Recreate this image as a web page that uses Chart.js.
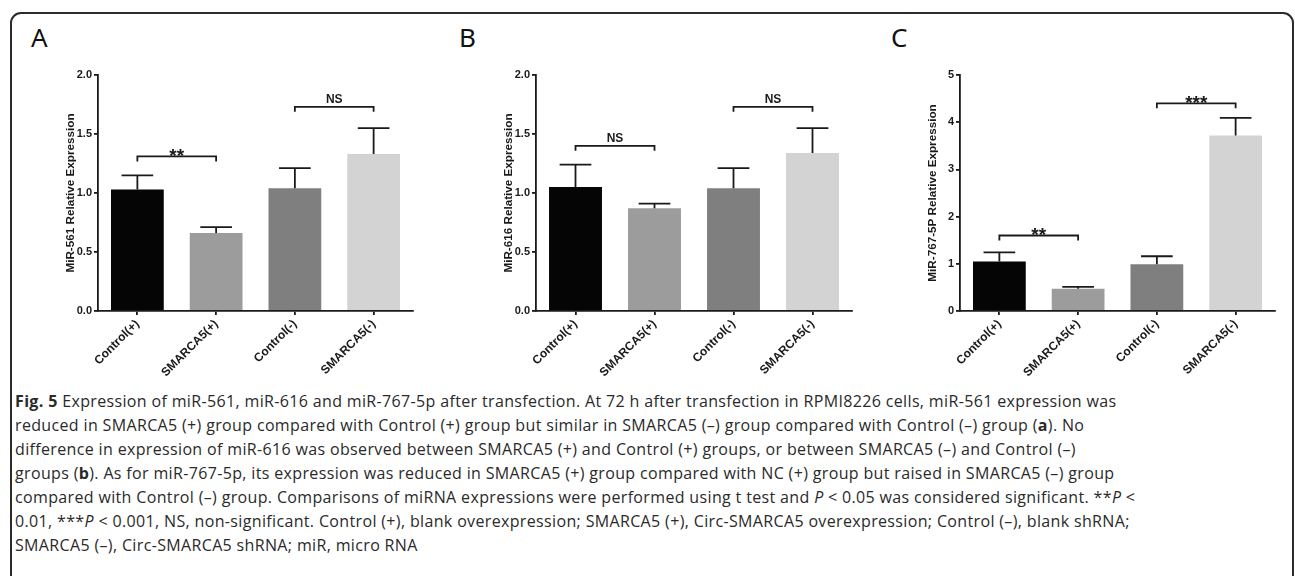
<!DOCTYPE html>
<html>
<head>
<meta charset="utf-8">
<script src="https://cdn.jsdelivr.net/npm/chart.js@4.4.1/dist/chart.umd.min.js"></script>
<style>
  html, body { margin: 0; padding: 0; background: #fff; }
  body { width: 1295px; height: 576px; position: relative; overflow: hidden; }
  .frame {
    position: absolute; left: 10px; top: 12px; width: 1280px; height: 640px;
    border: 2px solid #2b2b2b; border-radius: 11px;
  }
  .letter {
    position: absolute; top: 24px; font-family: "Noto Sans", sans-serif;
    font-size: 26px; line-height: 1; color: #111;
  }
  .panel { position: absolute; top: 60px; height: 320px; }
  .caption {
    position: absolute; left: 15px; top: 389px;
    font-family: "Open Sans", "Noto Sans", sans-serif; font-size: 16px; line-height: 24px;
    letter-spacing: 0.35px; color: #2a2a2a; white-space: pre;
  }
</style>
</head>
<body>
<div class="frame"></div>

<div class="letter" style="left:31px">A</div>
<div class="letter" style="left:459px">B</div>
<div class="letter" style="left:891px">C</div>

<div class="panel" style="left:40px;width:385px"><canvas id="chartA"></canvas></div>
<div class="panel" style="left:478px;width:386px"><canvas id="chartB"></canvas></div>
<div class="panel" style="left:902px;width:385px"><canvas id="chartC"></canvas></div>

<div class="caption"><b>Fig. 5</b> Expression of miR-561, miR-616 and miR-767-5p after transfection. At 72 h after transfection in RPMI8226 cells, miR-561 expression was
reduced in SMARCA5 (+) group compared with Control (+) group but similar in SMARCA5 (–) group compared with Control (–) group (<b>a</b>). No
difference in expression of miR-616 was observed between SMARCA5 (+) and Control (+) groups, or between SMARCA5 (–) and Control (–)
groups (<b>b</b>). As for miR-767-5p, its expression was reduced in SMARCA5 (+) group compared with NC (+) group but raised in SMARCA5 (–) group
compared with Control (–) group. Comparisons of miRNA expressions were performed using t test and <i>P</i> &lt; 0.05 was considered significant. **<i>P</i> &lt;
0.01, ***<i>P</i> &lt; 0.001, NS, non-significant. Control (+), blank overexpression; SMARCA5 (+), Circ-SMARCA5 overexpression; Control (–), blank shRNA;
SMARCA5 (–), Circ-SMARCA5 shRNA; miR, micro RNA</div>

<script>
// ============ DATA ============

const groups = ["Control(+)", "SMARCA5(+)", "Control(-)", "SMARCA5(-)"];
const barColors = ["#050505", "#9c9c9c", "#7f7f7f", "#d3d3d3"];

// panel A: miR-561
const mir561 = [1.03, 0.66, 1.04, 1.33];
const mir561Err = [1.15, 0.71, 1.21, 1.55];
const mir561Marks = [
    { from: 0, to: 1, y: 1.31, label: "**" },
    { from: 2, to: 3, y: 1.73, label: "NS" },
];

// panel B: miR-616
const mir616 = [1.05, 0.87, 1.04, 1.34];
const mir616Err = [1.24, 0.91, 1.21, 1.55];
const mir616Marks = [
    { from: 0, to: 1, y: 1.40, label: "NS" },
    { from: 2, to: 3, y: 1.73, label: "NS" },
];

// panel C: miR-767-5p
const mir767 = [1.05, 0.47, 0.99, 3.72];
const mir767Err = [1.24, 0.51, 1.16, 4.09];
const mir767Marks = [
    { from: 0, to: 1, y: 1.60, label: "**" },
    { from: 2, to: 3, y: 4.40, label: "***" },
];

const AXIS_FONT = "'Liberation Sans', Arial, sans-serif";
const INK = "#1a1a1a";

// ============ ERROR BARS + SIGNIFICANCE BRACKETS ============

const annotate = {
    id: "annotate",
    afterDatasetsDraw(chart, args, opts) {
        const ctx = chart.ctx;
        const xs = chart.scales.x;
        const ys = chart.scales.y;
        const meta = chart.getDatasetMeta(0);
        ctx.save();
        ctx.strokeStyle = INK;
        ctx.lineWidth = 1.8;
        ctx.lineCap = "butt";

        // upper whisker only
        opts.errors.forEach((e, i) => {
            const bar = meta.data[i];
            const top = ys.getPixelForValue(opts.values[i]);
            const end = ys.getPixelForValue(e);
            const half = bar.width * 0.3;
            ctx.beginPath();
            ctx.moveTo(bar.x, top);
            ctx.lineTo(bar.x, end);
            ctx.moveTo(bar.x - half, end);
            ctx.lineTo(bar.x + half, end);
            ctx.stroke();
        });

        // brackets
        opts.marks.forEach(m => {
            const x0 = xs.getPixelForValue(m.from);
            const x1 = xs.getPixelForValue(m.to);
            const y = ys.getPixelForValue(m.y);
            ctx.beginPath();
            ctx.moveTo(x0, y + 5);
            ctx.lineTo(x0, y);
            ctx.lineTo(x1, y);
            ctx.lineTo(x1, y + 5);
            ctx.stroke();

            const stars = m.label.startsWith("*");
            ctx.fillStyle = INK;
            ctx.textAlign = "center";
            ctx.textBaseline = "alphabetic";
            ctx.font = stars ? `bold 19px ${AXIS_FONT}` : `bold 12px ${AXIS_FONT}`;
            ctx.fillText(m.label, (x0 + x1) / 2, stars ? y + 6 : y - 4);
        });
        ctx.restore();
    }
};

// ============ PANEL BUILDER ============

function makePanel(id, values, errors, marks, yMax, yStep, decimals, title) {
    const ctx = document.getElementById(id).getContext("2d");
    return new Chart(ctx, {
        type: "bar",
        data: {
            labels: groups,
            datasets: [{
                data: values,
                backgroundColor: barColors,
                borderWidth: 0,
                barPercentage: 0.67,
                categoryPercentage: 1.0,
            }]
        },
        options: {
            responsive: true,
            maintainAspectRatio: false,
            animation: false,
            layout: { padding: { top: 15, right: 12, left: 0, bottom: 0 } },
            scales: {
                x: {
                    afterFit: s => { s.height = 69; },
                    border: { display: true, color: INK, width: 1.8 },
                    grid: { display: true, offset: false, drawOnChartArea: false, drawTicks: true,
                            tickLength: 4, color: INK, lineWidth: 1.8 },
                    ticks: {
                        color: INK, minRotation: 45, maxRotation: 45, padding: 2,
                        font: { family: AXIS_FONT, size: 12, weight: "bold" }
                    }
                },
                y: {
                    min: 0, max: yMax,
                    afterFit: s => { s.width = 58; },
                    border: { display: true, color: INK, width: 1.8 },
                    grid: { display: true, drawOnChartArea: false, drawTicks: true,
                            tickLength: 4, color: INK, lineWidth: 1.8 },
                    ticks: {
                        stepSize: yStep, color: INK, padding: 2,
                        callback: v => Number(v).toFixed(decimals),
                        font: { family: AXIS_FONT, size: 11, weight: "bold" }
                    },
                    title: {
                        display: true, text: title, color: INK,
                        padding: { top: 23.5, bottom: 0 },
                        font: { family: AXIS_FONT, size: 11.7, weight: "bold" }
                    }
                }
            },
            plugins: {
                legend: { display: false },
                tooltip: { enabled: false },
                annotate: { values, errors, marks }
            }
        },
        plugins: [annotate]
    });
}

// ============ START ============

makePanel("chartA", mir561, mir561Err, mir561Marks, 2, 0.5, 1, "MiR-561 Relative Expression");
makePanel("chartB", mir616, mir616Err, mir616Marks, 2, 0.5, 1, "MiR-616 Relative Expression");
makePanel("chartC", mir767, mir767Err, mir767Marks, 5, 1, 0, "MiR-767-5P Relative Expression");
</script>
</body>
</html>
